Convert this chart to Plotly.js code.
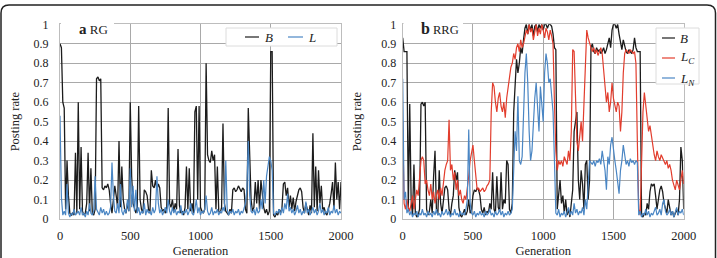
<!DOCTYPE html>
<html><head><meta charset="utf-8">
<script src="https://cdn.plot.ly/plotly-3.0.1.min.js"></script>
<style>html,body{margin:0;padding:0;background:#fff;}#chart{width:717px;height:258px;}</style>
</head><body><div id="chart"></div>
<script>
// Generation axis: 0..2000, sampled every 10 generations (201 samples per series)
var genStart = 0, genStep = 10;

// Panel a (RG)
var rgB = [
0.90,0.88,0.60,0.57,0.05,0.30,0.12,0.03,0.02,0.03,
0.02,0.34,0.03,0.60,0.05,0.37,0.04,0.02,0.03,0.08,
0.34,0.04,0.26,0.03,0.02,0.05,0.72,0.73,0.71,0.72,
0.16,0.15,0.17,0.16,0.18,0.15,0.08,0.03,0.10,0.17,
0.12,0.06,0.40,0.06,0.27,0.10,0.05,0.03,0.08,0.04,
0.60,0.22,0.08,0.05,0.03,0.06,0.58,0.10,0.05,0.03,
0.15,0.14,0.12,0.05,0.03,0.25,0.17,0.16,0.20,0.15,
0.18,0.16,0.06,0.04,0.05,0.03,0.06,0.57,0.08,0.06,
0.10,0.04,0.08,0.05,0.36,0.07,0.03,0.04,0.02,0.06,
0.27,0.05,0.26,0.04,0.08,0.03,0.55,0.58,0.10,0.58,
0.06,0.04,0.03,0.05,0.80,0.33,0.30,0.29,0.35,0.30,
0.33,0.05,0.27,0.04,0.03,0.06,0.49,0.08,0.04,0.03,
0.02,0.05,0.03,0.15,0.16,0.14,0.15,0.17,0.15,0.14,
0.16,0.15,0.05,0.03,0.57,0.29,0.10,0.04,0.06,0.19,
0.08,0.20,0.05,0.20,0.12,0.06,0.03,0.05,0.02,0.04,
0.86,0.86,0.02,0.01,0.03,0.02,0.05,0.03,0.06,0.18,
0.19,0.12,0.16,0.06,0.12,0.05,0.11,0.04,0.09,0.13,
0.15,0.16,0.14,0.06,0.03,0.08,0.05,0.02,0.07,0.03,
0.44,0.06,0.27,0.04,0.25,0.08,0.17,0.04,0.06,0.03,
0.02,0.05,0.08,0.13,0.19,0.05,0.29,0.10,0.19,0.05,
0.19];
var rgL = [
0.53,0.11,0.02,0.04,0.02,0.18,0.03,0.01,0.03,0.02,
0.05,0.02,0.03,0.04,0.02,0.06,0.02,0.03,0.01,0.04,
0.02,0.08,0.03,0.02,0.04,0.22,0.05,0.03,0.02,0.06,
0.03,0.05,0.02,0.04,0.02,0.03,0.06,0.29,0.12,0.04,
0.03,0.08,0.03,0.18,0.04,0.02,0.05,0.03,0.10,0.04,
0.26,0.06,0.17,0.04,0.15,0.03,0.06,0.02,0.04,0.03,
0.08,0.02,0.05,0.03,0.04,0.02,0.06,0.03,0.05,0.22,
0.08,0.03,0.05,0.02,0.04,0.06,0.03,0.10,0.04,0.02,
0.06,0.03,0.05,0.02,0.04,0.03,0.07,0.02,0.04,0.03,
0.05,0.02,0.04,0.08,0.03,0.02,0.05,0.10,0.03,0.06,
0.02,0.04,0.03,0.05,0.12,0.04,0.02,0.03,0.06,0.02,
0.04,0.03,0.05,0.02,0.04,0.03,0.06,0.04,0.30,0.05,
0.02,0.04,0.03,0.05,0.02,0.04,0.03,0.05,0.02,0.04,
0.03,0.05,0.08,0.15,0.40,0.12,0.04,0.03,0.05,0.02,
0.06,0.03,0.04,0.10,0.05,0.20,0.08,0.22,0.26,0.32,
0.30,0.25,0.03,0.02,0.04,0.03,0.05,0.02,0.06,0.03,
0.08,0.05,0.13,0.04,0.06,0.03,0.05,0.02,0.04,0.07,
0.03,0.05,0.02,0.04,0.03,0.09,0.03,0.05,0.02,0.04,
0.06,0.03,0.05,0.02,0.04,0.08,0.03,0.05,0.02,0.04,
0.03,0.06,0.02,0.04,0.03,0.07,0.03,0.05,0.02,0.04,
0.03];

// Panel b (RRG)
var rrgB = [
0.93,0.86,0.86,0.86,0.05,0.59,0.10,0.02,0.28,0.03,
0.01,0.02,0.05,0.59,0.60,0.58,0.60,0.05,0.02,0.04,
0.10,0.03,0.22,0.35,0.05,0.02,0.25,0.08,0.03,0.10,
0.16,0.17,0.15,0.05,0.02,0.08,0.12,0.25,0.20,0.24,
0.06,0.02,0.01,0.03,0.05,0.02,0.04,0.10,0.03,0.05,
0.12,0.15,0.14,0.16,0.15,0.12,0.05,0.03,0.06,0.02,
0.04,0.03,0.08,0.05,0.24,0.05,0.03,0.22,0.06,0.04,
0.24,0.05,0.10,0.08,0.30,0.28,0.05,0.03,0.08,0.55,
0.70,0.82,0.75,0.80,0.88,0.85,0.92,0.98,1.00,0.95,
1.00,0.97,1.00,0.94,0.99,1.00,0.96,1.00,0.98,1.00,
0.97,1.00,1.00,0.98,1.00,1.00,0.99,0.95,0.88,0.87,
0.05,0.15,0.20,0.08,0.12,0.03,0.10,0.02,0.05,0.01,
0.08,0.15,0.45,0.50,0.55,0.20,0.10,0.25,0.18,0.05,
0.28,0.30,0.10,0.20,0.88,0.90,0.86,0.85,0.88,0.86,
0.87,0.85,0.86,0.88,0.85,0.87,0.90,0.93,0.88,0.97,
1.00,1.00,0.98,1.00,0.95,0.90,0.87,0.92,0.88,0.86,
0.85,0.87,0.86,0.85,0.87,0.93,0.88,0.86,0.86,0.86,
0.02,0.01,0.03,0.02,0.08,0.05,0.14,0.18,0.17,0.18,
0.12,0.05,0.10,0.15,0.17,0.14,0.08,0.05,0.03,0.10,
0.05,0.02,0.04,0.01,0.03,0.05,0.02,0.10,0.37,0.30,
0.05];
var rrgLC = [
0.50,0.08,0.05,0.10,0.06,0.04,0.08,0.12,0.05,0.10,
0.15,0.12,0.20,0.30,0.32,0.30,0.18,0.20,0.15,0.12,
0.18,0.10,0.14,0.08,0.12,0.15,0.10,0.16,0.12,0.20,
0.25,0.28,0.30,0.51,0.25,0.28,0.20,0.24,0.15,0.20,
0.12,0.15,0.10,0.08,0.12,0.10,0.15,0.22,0.30,0.35,
0.38,0.30,0.20,0.15,0.16,0.14,0.15,0.16,0.14,0.15,
0.17,0.18,0.20,0.55,0.70,0.68,0.60,0.55,0.62,0.65,
0.58,0.55,0.60,0.52,0.62,0.68,0.72,0.78,0.80,0.85,
0.82,0.88,0.90,0.86,0.92,0.88,0.90,0.93,0.97,0.95,
1.00,0.96,0.98,0.92,0.97,1.00,0.94,0.98,0.95,1.00,
0.97,0.93,0.98,0.96,0.92,0.97,0.94,0.90,0.60,0.35,
0.25,0.30,0.28,0.30,0.27,0.32,0.30,0.28,0.35,0.30,
0.45,0.87,0.86,0.60,0.40,0.35,0.45,0.50,0.40,0.60,
0.80,0.97,0.93,0.90,0.88,0.86,0.88,0.85,0.87,0.84,
0.86,0.88,0.85,0.75,0.65,0.60,0.65,0.55,0.60,0.70,
0.62,0.58,0.55,0.60,0.58,0.45,0.55,0.75,0.85,0.87,
0.86,0.85,0.87,0.86,0.85,0.86,0.80,0.40,0.05,0.02,
0.30,0.55,0.65,0.58,0.50,0.45,0.48,0.42,0.38,0.33,
0.30,0.35,0.32,0.30,0.33,0.31,0.30,0.28,0.30,0.26,
0.28,0.25,0.20,0.18,0.15,0.20,0.17,0.15,0.20,0.25,
0.18];
var rrgLN = [
0.72,0.10,0.14,0.03,0.05,0.02,0.04,0.01,0.03,0.02,
0.04,0.01,0.03,0.02,0.05,0.02,0.03,0.01,0.04,0.02,
0.03,0.01,0.04,0.02,0.05,0.02,0.03,0.01,0.04,0.02,
0.03,0.05,0.02,0.04,0.01,0.03,0.02,0.05,0.02,0.03,
0.01,0.04,0.02,0.03,0.02,0.05,0.10,0.46,0.08,0.03,
0.02,0.04,0.01,0.03,0.02,0.04,0.02,0.03,0.01,0.04,
0.02,0.03,0.05,0.02,0.03,0.01,0.04,0.02,0.03,0.05,
0.02,0.04,0.01,0.03,0.02,0.04,0.02,0.03,0.05,0.30,
0.45,0.35,0.63,0.30,0.28,0.32,0.60,0.75,0.85,0.70,
0.45,0.30,0.35,0.50,0.62,0.70,0.55,0.45,0.68,0.60,
0.50,0.75,0.85,0.80,0.70,0.72,0.65,0.55,0.30,0.03,
0.02,0.05,0.01,0.03,0.02,0.04,0.01,0.03,0.06,0.02,
0.04,0.02,0.08,0.03,0.05,0.02,0.04,0.03,0.06,0.02,
0.10,0.05,0.15,0.30,0.29,0.28,0.30,0.27,0.30,0.29,
0.31,0.28,0.35,0.30,0.25,0.15,0.32,0.28,0.38,0.42,
0.35,0.30,0.25,0.20,0.13,0.25,0.30,0.38,0.32,0.28,
0.30,0.27,0.31,0.29,0.30,0.28,0.30,0.29,0.02,0.04,
0.01,0.03,0.02,0.05,0.02,0.04,0.01,0.03,0.02,0.04,
0.06,0.02,0.03,0.05,0.02,0.08,0.10,0.04,0.02,0.03,
0.05,0.02,0.04,0.01,0.03,0.06,0.02,0.04,0.03,0.05,
0.02];

var seriesNames = {B: 'B', L: 'L', LC: 'L_C', LN: 'L_N'};
var cBlack = '#1c1c1c', cBlue = '#4a86c4', cRed = '#e23d2d';

function tr(y, color, xa, ya, name, w) {
  return {type: 'scatter', mode: 'lines', x0: genStart, dx: genStep, y: y, name: name,
    xaxis: xa, yaxis: ya, line: {color: color, width: w}, showlegend: false, hoverinfo: 'skip'};
}
var data = [
  tr(rgB, cBlack, 'x', 'y', seriesNames.B, 1.3),
  tr(rgL, cBlue, 'x', 'y', seriesNames.L, 1.2),
  tr(rrgB, cBlack, 'x2', 'y2', seriesNames.B, 1.3),
  tr(rrgLC, cRed, 'x2', 'y2', seriesNames.LC, 1.2),
  tr(rrgLN, cBlue, 'x2', 'y2', seriesNames.LN, 1.2)
];

var W = 717, H = 258;
function px(x) { return x / W; }
function py(y) { return 1 - y / H; }

var serif = '"Liberation Serif", "Times New Roman", Times, serif';
var gridC = '#a9a9a9', borderC = '#bdbdbd';

function xax(domain) {
  return {domain: domain, range: [0, 2000], dtick: 500, tick0: 0, showgrid: true, gridcolor: gridC, gridwidth: 1,
    zeroline: false, showline: true, linecolor: borderC, mirror: true, ticks: '', ticklabelstandoff: 5,
    tickfont: {family: serif, size: 12.5, color: '#222'},
    title: {text: 'Generation', font: {family: serif, size: 12.5, color: '#222'}, standoff: 4}, fixedrange: true};
}
function yax(anchor, standoffT, standoffTitle) {
  return {domain: [py(219), py(24.3)], range: [0, 1], dtick: 0.1, tick0: 0, showgrid: true, gridcolor: gridC, gridwidth: 1,
    zeroline: false, showline: true, linecolor: borderC, mirror: true, ticks: '', anchor: anchor,
    ticklabelstandoff: standoffT,
    tickfont: {family: serif, size: 12, color: '#222'},
    title: {text: 'Posting rate', font: {family: serif, size: 12.5, color: '#222'}, standoff: standoffTitle}, fixedrange: true};
}

var shapes = [
  // outer rounded frame
  {type: 'path', xref: 'paper', yref: 'paper', layer: 'above',
   path: 'M ' + px(1) + ' ' + py(258) + ' L ' + px(1) + ' ' + py(13) + ' Q ' + px(1) + ' ' + py(5) + ' ' + px(9) + ' ' + py(5) +
         ' L ' + px(707) + ' ' + py(5) + ' Q ' + px(715.5) + ' ' + py(5) + ' ' + px(715.5) + ' ' + py(13) + ' L ' + px(715.5) + ' ' + py(258),
   line: {color: '#222', width: 1.5}},
  // title boxes
  {type: 'rect', xref: 'paper', yref: 'paper', layer: 'above', x0: px(61), x1: px(114), y0: py(36), y1: py(20), fillcolor: '#fff', line: {width: 0}},
  {type: 'rect', xref: 'paper', yref: 'paper', layer: 'above', x0: px(403.5), x1: px(463), y0: py(36), y1: py(20), fillcolor: '#fff', line: {width: 0}},
  // legend boxes
  {type: 'rect', xref: 'paper', yref: 'paper', layer: 'above', x0: px(226), x1: px(337), y0: py(46), y1: py(28), fillcolor: '#fff', line: {color: '#dcdcdc', width: 1}},
  {type: 'rect', xref: 'paper', yref: 'paper', layer: 'above', x0: px(656), x1: px(699), y0: py(84), y1: py(28), fillcolor: '#fff', line: {color: '#dcdcdc', width: 1}},
  // legend samples
  {type: 'line', xref: 'paper', yref: 'paper', layer: 'above', x0: px(245), x1: px(259), y0: py(37), y1: py(37), line: {color: cBlack, width: 1.2}},
  {type: 'line', xref: 'paper', yref: 'paper', layer: 'above', x0: px(288), x1: px(303), y0: py(37), y1: py(37), line: {color: cBlue, width: 1.2}},
  {type: 'line', xref: 'paper', yref: 'paper', layer: 'above', x0: px(662), x1: px(675), y0: py(38), y1: py(38), line: {color: cBlack, width: 1.2}},
  {type: 'line', xref: 'paper', yref: 'paper', layer: 'above', x0: px(662), x1: px(675), y0: py(58), y1: py(58), line: {color: cRed, width: 1.2}},
  {type: 'line', xref: 'paper', yref: 'paper', layer: 'above', x0: px(662), x1: px(675), y0: py(78), y1: py(78), line: {color: cBlue, width: 1.2}}
];

function ann(text, x, y, size) {
  return {xref: 'paper', yref: 'paper', x: px(x), y: py(y), xanchor: 'left', yanchor: 'middle', showarrow: false,
    text: text, font: {family: serif, size: size || 12, color: '#222'}};
}
var annotations = [
  ann('<span style="font-size:15px"><b>a</b></span> RG', 77, 29, 13),
  ann('<span style="font-size:16px"><b>b</b></span> RRG', 419, 29, 12.5),
  ann('<i>B</i>', 263, 37, 13),
  ann('<i>L</i>', 306, 37, 13),
  ann('<i>B</i>', 678, 38, 13),
  ann('<i>L</i><sub><i>C</i></sub>', 678, 58, 13),
  ann('<i>L</i><sub><i>N</i></sub>', 678, 79, 13)
];

var layout = {
  width: W, height: H, margin: {l: 0, r: 0, t: 0, b: 0}, paper_bgcolor: '#fff', plot_bgcolor: '#fff',
  showlegend: false,
  font: {family: serif},
  xaxis: xax([px(60), px(341)]),
  yaxis: yax('x', 8, 11),
  xaxis2: xax([px(402.7), px(683.7)]),
  yaxis2: yax('x2', 3, 16),
  shapes: shapes, annotations: annotations
};
layout.xaxis.anchor = 'y';
layout.xaxis2.anchor = 'y2';

Plotly.newPlot('chart', data, layout, {staticPlot: true, displayModeBar: false});
</script></body></html>
